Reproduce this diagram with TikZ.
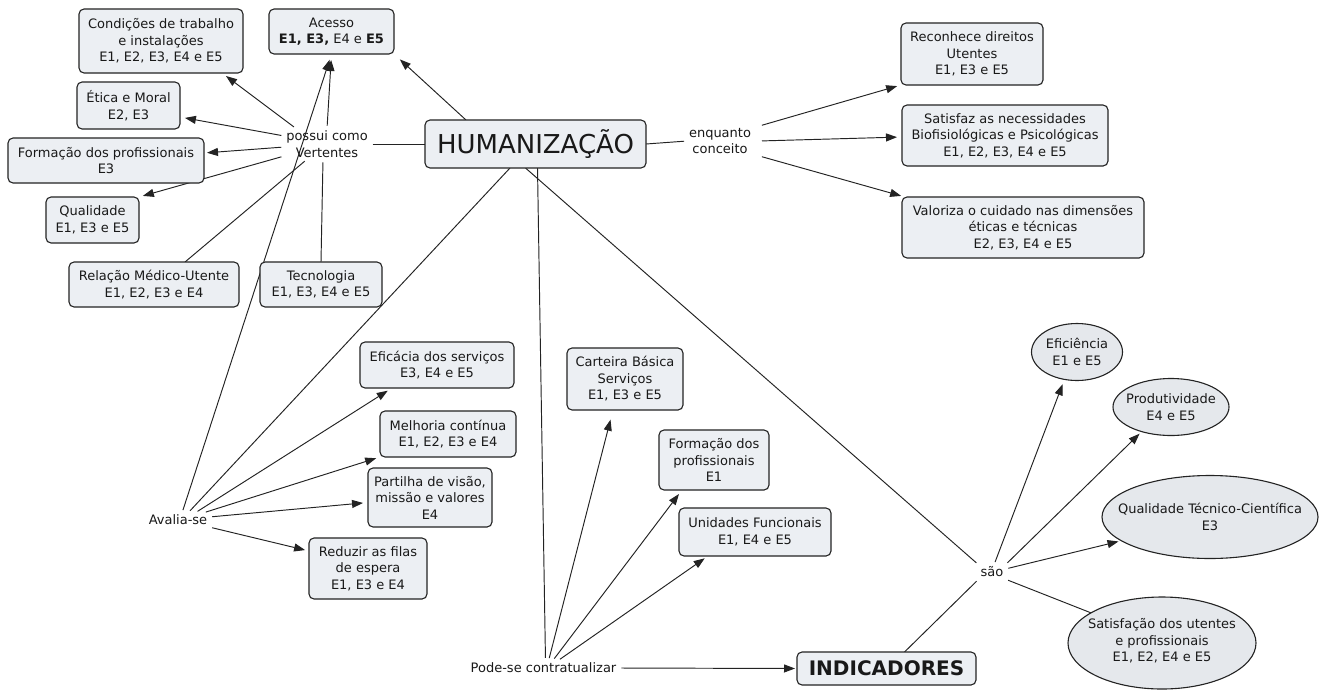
\documentclass[tikz,border=0pt]{standalone}
\usepackage{fontspec}
\setmainfont{DejaVu Sans}
\usetikzlibrary{arrows.meta,shapes.geometric}
\definecolor{boxfill}{RGB}{236,239,243}
\definecolor{ellfill}{RGB}{229,232,236}
\definecolor{edge}{RGB}{35,35,35}
\definecolor{ink}{RGB}{25,25,25}
\newcommand\nfont{\fontsize{13}{16.5}\selectfont}
\pgfdeclarelayer{bg}
\pgfsetlayers{bg,main}
\begin{document}
\begin{tikzpicture}[x=1pt,y=-1pt,
  box/.style={draw=edge, fill=boxfill, line width=1.1pt, rounded corners=5pt, align=center, font=\nfont, text=ink, inner sep=2pt, outer sep=0pt},
  ell/.style={ellipse, draw=edge, fill=ellfill, line width=1.1pt, inner sep=0pt, outer sep=0pt},
  etext/.style={align=center, font=\nfont, text=ink, inner sep=0pt},
  lab/.style={align=center, font=\nfont, text=ink, inner sep=2pt, outer sep=0pt},
  arr/.style={draw=edge, line width=0.95pt, -{Triangle[length=11pt,width=8pt]}},
  ln/.style={draw=edge, line width=0.95pt},
  fromlab/.style={shorten <=3pt}]
\useasboundingbox (0,0) rectangle (1323,691);

% left cluster
\node[box, minimum width=164pt, minimum height=64pt] (cond) at (161,41) {Condições de trabalho\\e instalações\\E1, E2, E3, E4 e E5};
\node[box, minimum width=125pt, minimum height=45pt] (acc) at (331.5,31.5) {Acesso\\\textbf{E1, E3,} E4 e \textbf{E5}};
\node[box, minimum width=103pt, minimum height=47pt] (etica) at (128.5,105.5) {Ética e Moral\\E2, E3};
\node[box, minimum width=196pt, minimum height=45pt] (form) at (106,160.5) {Formação dos profissionais\\E3};
\node[box, minimum width=93pt, minimum height=46pt] (qual) at (92.5,220) {Qualidade\\E1, E3 e E5};
\node[box, minimum width=170pt, minimum height=45pt] (rel) at (154,284.5) {Relação Médico-Utente\\E1, E2, E3 e E4};
\node[box, minimum width=122pt, minimum height=45pt] (tec) at (321,284.5) {Tecnologia\\E1, E3, E4 e E5};
\node[lab] (possui) at (327,144) {possui como\\Vertentes};

% centre
\node[box, minimum width=221pt, minimum height=48pt, font=\fontsize{26}{30}\selectfont] (hum) at (535.5,144) {HUMANIZAÇÃO};
\node[lab] (enq) at (720,141) {enquanto\\conceito};

% right
\node[box, minimum width=142pt, minimum height=62pt] (rec) at (972,54) {Reconhece direitos\\Utentes\\E1, E3 e E5};
\node[box, minimum width=206pt, minimum height=61pt] (sat) at (1005,135.5) {Satisfaz as necessidades\\Biofisiológicas e Psicológicas\\E1, E2, E3, E4 e E5};
\node[box, minimum width=242pt, minimum height=61pt] (val) at (1023,227.5) {Valoriza o cuidado nas dimensões\\éticas e técnicas\\E2, E3, E4 e E5};

% Avalia-se
\node[lab] (aval) at (178,520) {Avalia-se};
\node[box, minimum width=154pt, minimum height=46pt] (efic) at (437,365) {Eficácia dos serviços\\E3, E4 e E5};
\node[box, minimum width=136pt, minimum height=46pt] (mel) at (448,434) {Melhoria contínua\\E1, E2, E3 e E4};
\node[box, minimum width=124pt, minimum height=59pt] (part) at (430,497.5) {Partilha de visão,\\missão e valores\\E4};
\node[box, minimum width=118pt, minimum height=61pt] (red) at (368,568.5) {Reduzir as filas\\de espera\\E1, E3 e E4};

% Pode-se contratualizar
\node[lab] (pode) at (543.5,668) {Pode-se contratualizar};
\node[box, minimum width=116pt, minimum height=62pt] (cart) at (625,379) {Carteira Básica\\Serviços\\E1, E3 e E5};
\node[box, minimum width=110pt, minimum height=60pt] (formE) at (714,460) {Formação dos\\profissionais\\E1};
\node[box, minimum width=152pt, minimum height=48pt] (unid) at (755,532) {Unidades Funcionais\\E1, E4 e E5};
\node[box, minimum width=179pt, minimum height=33pt, font=\fontsize{20}{24}\selectfont\bfseries] (ind) at (886.5,668.5) {INDICADORES};

% são
\node[lab] (sao) at (992,572) {são};
\node[ell, minimum width=91pt, minimum height=57pt] (efi) at (1077,352) {};
\node[etext] (efiT) at (efi) {Eficiência\\E1 e E5};
\node[ell, minimum width=116pt, minimum height=57pt] (prod) at (1171,407) {};
\node[etext] (prodT) at (prod) {Produtividade\\E4 e E5};
\node[ell, minimum width=216pt, minimum height=83pt] (qtc) at (1210,517) {};
\node[etext] (qtcT) at (qtc) {Qualidade Técnico-Científica\\E3};
\node[ell, minimum width=188pt, minimum height=92pt] (satu) at (1162,643) {};
\node[etext] (satuT) at ([yshift=2pt]satu.center) {Satisfação dos utentes\\e profissionais\\E1, E2, E4 e E5};

\begin{pgfonlayer}{bg}
\fill[white] (0,0) rectangle (1323,691);
% possui como Vertentes
\draw[arr, fromlab, shorten >=5pt] ([xshift=12pt]possui.north west) -- ([xshift=-21pt]cond.south east);
\draw[arr, fromlab, shorten >=5pt] ([yshift=8pt]possui.west) -- ([yshift=-11.5pt]etica.east);
\draw[arr, fromlab, shorten >=3pt] ([yshift=-3pt]possui.west) -- ([yshift=7.5pt]form.east);
\draw[arr, fromlab, shorten >=4pt] ([yshift=-12pt]possui.west) -- (qual.north east);
\draw[ln, fromlab] ([xshift=-20pt]possui.south) -- ([xshift=31pt]rel.north);
\draw[ln, fromlab] ([xshift=-4pt]possui.south) -- (tec.north);
\draw[arr, fromlab, shorten >=6pt] (possui.north) -- (acc.south);
\draw[ln, fromlab] (possui.east) -- (hum.west);
% HUMANIZACAO
\draw[arr, shorten >=8pt] ([xshift=41pt]hum.north west) -- (acc.south east);
\draw[ln, shorten >=3pt] (hum.east) -- (enq.west);
\draw[ln, shorten >=3pt] ([xshift=-25.5pt]hum.south) -- ([xshift=10pt]aval.north);
\draw[ln, shorten >=3pt] ([xshift=2pt]hum.south) -- ([xshift=2pt]pode.north);
\draw[ln, shorten >=3pt] ([xshift=-10pt]hum.south) -- (sao.north west);
% enquanto conceito
\draw[arr, fromlab, shorten >=4pt] ([xshift=6pt]enq.north east) -- (rec.south west);
\draw[arr, fromlab, shorten >=5pt] ([xshift=6pt]enq.east) -- ([yshift=-1.5pt]sat.west);
\draw[arr, fromlab, shorten >=4pt] ([xshift=6pt]enq.south east) -- ([xshift=3pt]val.north west);
% Avalia-se
\draw[arr, fromlab, shorten >=6pt] ([xshift=4pt]aval.north) -- (acc.south);
\draw[arr, fromlab, shorten >=5pt] ([xshift=17pt]aval.north) -- ([xshift=-45pt]efic.south);
\draw[arr, fromlab, shorten >=4pt] ([xshift=25pt]aval.north) -- (mel.south west);
\draw[arr, fromlab, shorten >=5pt] ([yshift=3pt]aval.east) -- ([yshift=-5pt]part.west);
\draw[arr, fromlab, shorten >=4pt] (aval.south east) -- ([yshift=17.5pt]red.west);
% Pode-se contratualizar
\draw[arr, fromlab, shorten >=10pt] ([xshift=5pt]pode.north) -- ([xshift=-12pt]cart.south);
\draw[arr, fromlab, shorten >=5pt] ([xshift=9pt]pode.north) -- ([xshift=-32pt]formE.south);
\draw[arr, fromlab, shorten >=4pt] ([xshift=14pt]pode.north) -- ([xshift=-47pt]unid.south);
\draw[arr, fromlab, shorten >=2pt] (pode.east) -- (ind.west);
% são
\draw[ln, shorten >=3pt] ([xshift=18pt]ind.north) -- (sao.south west);
\draw[arr, fromlab, shorten >=4pt] ([xshift=2pt]sao.north) -- ([xshift=-13pt]efi.south);
\draw[arr, fromlab, shorten >=3pt] (sao.north east) -- (prod.220);
\draw[arr, fromlab, shorten >=3pt] ([yshift=3pt]sao.east) -- (qtc.195);
\draw[ln, fromlab] (sao.south east) -- (satu.157);
\end{pgfonlayer}
\end{tikzpicture}
\end{document}
